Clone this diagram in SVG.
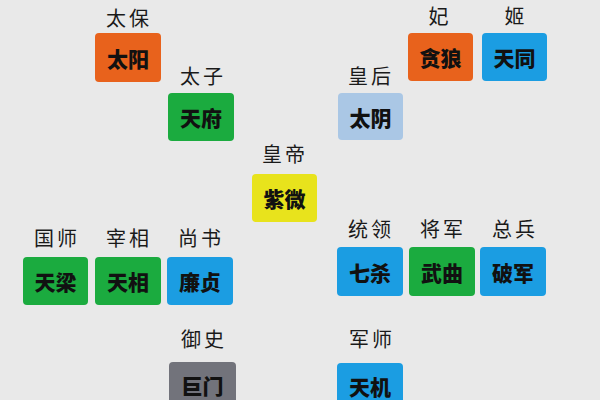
<svg xmlns="http://www.w3.org/2000/svg" width="600" height="400" viewBox="0 0 600 400">
<style>
.box{stroke:none}
.t{font-family:"Noto Sans CJK SC","Noto Sans",sans-serif;font-size:21px;font-weight:900;fill:#111;text-anchor:middle;dominant-baseline:central}
.l{font-family:"Noto Sans CJK SC","Noto Sans",sans-serif;font-size:20px;font-weight:normal;fill:#1a1a1a;text-anchor:middle;dominant-baseline:central;letter-spacing:3px}
.or{fill:#e8621c}.gr{fill:#1bab3f}.bl{fill:#1b9de2}.lb{fill:#aac7e5}.ye{fill:#e8e31c}.gy{fill:#72737b}
</style>
<rect width="600" height="400" fill="#e9e9e9"/>
<g id="connectors"/>
<g id="taiyang"><text class="l" x="129" y="17">太保</text><rect class="box or" x="95" y="33" width="66" height="49" rx="4"/><text class="t" x="128" y="57.5">太阳</text></g>
<g id="tianfu"><text class="l" x="203" y="75">太子</text><rect class="box gr" x="168" y="93" width="66" height="48" rx="4"/><text class="t" x="201" y="117">天府</text></g>
<g id="tanlang"><text class="l" x="440" y="15">妃</text><rect class="box or" x="408" y="33" width="65" height="48" rx="4"/><text class="t" x="440.5" y="57">贪狼</text></g>
<g id="tiantong"><text class="l" x="516" y="15">姬</text><rect class="box bl" x="482" y="33" width="65" height="48" rx="4"/><text class="t" x="514.5" y="57">天同</text></g>
<g id="taiyin"><text class="l" x="371" y="75">皇后</text><rect class="box lb" x="338" y="93" width="65" height="47" rx="4"/><text class="t" x="370.5" y="116.5">太阴</text></g>
<g id="ziwei"><text class="l" x="285" y="153">皇帝</text><rect class="box ye" x="252" y="174" width="65" height="48" rx="4"/><text class="t" x="284.5" y="198">紫微</text></g>
<g id="tianliang"><text class="l" x="57" y="237">国师</text><rect class="box gr" x="23" y="257" width="65" height="48" rx="4"/><text class="t" x="55.5" y="281">天梁</text></g>
<g id="tianxiang"><text class="l" x="129" y="237">宰相</text><rect class="box gr" x="95" y="257" width="66" height="48" rx="4"/><text class="t" x="128" y="281">天相</text></g>
<g id="lianzhen"><text class="l" x="201" y="237">尚书</text><rect class="box bl" x="167" y="257" width="66" height="48" rx="4"/><text class="t" x="200" y="281">廉贞</text></g>
<g id="qisha"><text class="l" x="371" y="228">统领</text><rect class="box bl" x="337" y="247" width="66" height="49" rx="4"/><text class="t" x="370" y="271.5">七杀</text></g>
<g id="wuqu"><text class="l" x="443" y="228">将军</text><rect class="box gr" x="409" y="247" width="66" height="49" rx="4"/><text class="t" x="442" y="271.5">武曲</text></g>
<g id="pojun"><text class="l" x="515" y="228">总兵</text><rect class="box bl" x="480" y="247" width="66" height="49" rx="4"/><text class="t" x="513" y="271.5">破军</text></g>
<g id="jumen"><text class="l" x="204" y="338">御史</text><rect class="box gy" x="169" y="362" width="67" height="50" rx="4"/><text class="t" x="202.5" y="385">巨门</text></g>
<g id="tianji"><text class="l" x="372" y="338">军师</text><rect class="box bl" x="337" y="363" width="66" height="50" rx="4"/><text class="t" x="370" y="386">天机</text></g>
</svg>
